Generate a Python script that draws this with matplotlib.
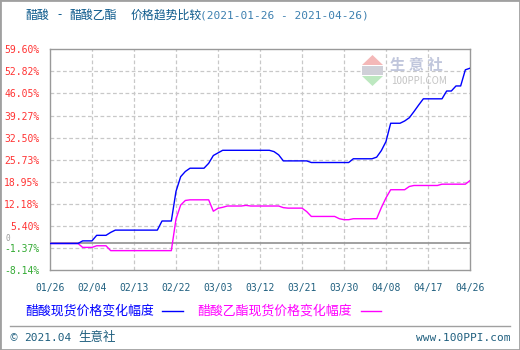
import matplotlib
matplotlib.use('Agg')
import matplotlib.pyplot as plt
from matplotlib.patches import Rectangle, Polygon
from matplotlib.lines import Line2D
import pandas as pd

plt.rcParams['font.family'] = ['Noto Sans CJK SC', 'DejaVu Sans']

# 醋酸现货价格变化幅度 (%)
acid_dates = ['2021-01-26', '2021-02-01', '2021-02-02', '2021-02-04', '2021-02-05', '2021-02-07',
              '2021-02-08', '2021-02-09', '2021-02-18', '2021-02-19', '2021-02-21', '2021-02-22',
              '2021-02-23', '2021-02-24', '2021-02-25', '2021-02-28', '2021-03-01', '2021-03-02',
              '2021-03-03', '2021-03-04', '2021-03-14', '2021-03-15', '2021-03-16', '2021-03-17',
              '2021-03-22', '2021-03-23', '2021-03-31', '2021-04-01', '2021-04-05', '2021-04-06',
              '2021-04-07', '2021-04-08', '2021-04-09', '2021-04-11', '2021-04-12', '2021-04-13',
              '2021-04-14', '2021-04-15', '2021-04-16', '2021-04-20', '2021-04-21', '2021-04-22',
              '2021-04-23', '2021-04-24', '2021-04-25', '2021-04-26']
acid_vals = [0, 0, 0.8, 0.8, 2.5, 2.5,
             3.4, 4.1, 4.1, 6.9, 6.9, 16.0,
             20.5, 22.1, 23.1, 23.1, 24.6, 27.0,
             27.8, 28.6, 28.6, 28.2, 27.2, 25.35,
             25.35, 24.85, 24.85, 26.0, 26.0, 26.5,
             28.5, 31.3, 36.9, 36.9, 37.6, 38.6,
             40.5, 42.5, 44.4, 44.4, 46.8, 46.8,
             48.35, 48.35, 53.3, 53.8]

# 醋酸乙酯现货价格变化幅度 (%)
ester_dates = ['2021-01-26', '2021-02-01', '2021-02-02', '2021-02-04', '2021-02-05', '2021-02-07',
               '2021-02-08', '2021-02-21', '2021-02-22', '2021-02-23', '2021-02-24', '2021-02-25',
               '2021-03-01', '2021-03-02', '2021-03-03', '2021-03-04', '2021-03-05', '2021-03-08',
               '2021-03-09', '2021-03-10', '2021-03-16', '2021-03-17', '2021-03-18', '2021-03-21',
               '2021-03-22', '2021-03-23', '2021-03-28', '2021-03-29', '2021-03-30', '2021-03-31',
               '2021-04-01', '2021-04-06', '2021-04-07', '2021-04-08', '2021-04-09', '2021-04-12',
               '2021-04-13', '2021-04-14', '2021-04-19', '2021-04-20', '2021-04-25', '2021-04-26']
ester_vals = [0, 0, -1.2, -1.2, -0.7, -0.7,
              -2.2, -2.2, 7.5, 11.8, 13.2, 13.4,
              13.4, 9.9, 10.8, 11.1, 11.5, 11.5,
              11.7, 11.5, 11.5, 11.0, 10.85, 10.85,
              9.8, 8.3, 8.3, 7.6, 7.3, 7.3,
              7.6, 7.6, 11.0, 14.0, 16.5, 16.5,
              17.5, 17.8, 17.8, 18.2, 18.2, 19.3]

x_labels = ['01/26', '02/04', '02/13', '02/22', '03/03', '03/12', '03/21', '03/30', '04/08', '04/17', '04/26']
y_ticks = [-8.14, -1.37, 5.40, 12.18, 18.95, 25.73, 32.50, 39.27, 46.05, 52.82, 59.60]

W, H = 520, 350
fig = plt.figure(figsize=(W / 100, H / 100), dpi=100)
fig.patch.set_facecolor('white')

ax = fig.add_axes([50 / W, (H - 270) / H, 420 / W, 220.7 / H])
xa = pd.to_datetime(acid_dates)
xe = pd.to_datetime(ester_dates)
xt = pd.to_datetime(['2021/' + s for s in x_labels])

ax.set_xlim(xt[0], xt[-1])
ax.set_ylim(y_ticks[0], y_ticks[-1])
ax.set_xticks(xt)
ax.set_xticklabels(x_labels, family='DejaVu Sans Mono', fontsize=7, color='#1f5f7f')
ax.set_yticks(y_ticks)
ax.set_yticklabels(['%.2f%%' % v for v in y_ticks], family='DejaVu Sans Mono', fontsize=7)
for lbl, v in zip(ax.get_yticklabels(), y_ticks):
    lbl.set_color('#ff3333' if v > 0 else '#33aa33')
ax.tick_params(length=0)
ax.tick_params(axis='y', pad=7.5)
ax.tick_params(axis='x', pad=9)

for v in y_ticks[1:-1]:
    ax.axhline(v, color='#c8c8c8', lw=0.9, ls=(0, (3, 2)), zorder=1)
for d in xt[1:-1]:
    ax.axvline(d, color='#c8c8c8', lw=0.9, ls=(0, (3, 2)), zorder=1)
ax.axhline(0, color='#999999', lw=1.3, zorder=2)
ax.text(-0.105, 1.4, '0', transform=ax.get_yaxis_transform(), fontsize=5.5, color='#999999',
        family='DejaVu Sans Mono', ha='left', va='center')

for s in ax.spines.values():
    s.set_color('#999999')
    s.set_linewidth(1.0)

# watermark
fig.patches.append(Polygon([(362 / W, 1 - 65 / H), (383 / W, 1 - 65 / H), (372.5 / W, 1 - 55 / H)],
                           closed=True, transform=fig.transFigure, facecolor='#f4b8b8', edgecolor='none'))
fig.patches.append(Rectangle((362 / W, 1 - 75 / H), 21 / W, 9 / H, transform=fig.transFigure,
                             facecolor='#d0d0d8', edgecolor='none'))
fig.patches.append(Polygon([(362 / W, 1 - 76 / H), (383 / W, 1 - 76 / H), (372.5 / W, 1 - 86 / H)],
                           closed=True, transform=fig.transFigure, facecolor='#bde8c0', edgecolor='none'))
fig.text(390 / W, 1 - 65 / H, '生 意 社', fontsize=11, color='#c0c6dc', va='center', ha='left', weight='bold')
fig.text(391 / W, 1 - 81 / H, '100PPI.COM', fontsize=7, color='#c4c4c4', va='center', ha='left')

ax.plot(xe, ester_vals, color='#ff00ff', lw=1.0, zorder=3)
ax.plot(xa, acid_vals, color='#0000ff', lw=1.0, zorder=4)

# title
ty = 1 - 15 / H
for px, s in [(25, '醋酸'), (57, '-'), (69, '醋酸乙酯'), (131, '价格趋势比较')]:
    fig.text(px / W, ty, s, fontsize=8.6, color='#0d5a8c', va='center', ha='left')
fig.text(200 / W, ty, '(2021-01-26 - 2021-04-26)', fontsize=8, color='#3d80b0',
         va='center', ha='left', family='DejaVu Sans Mono')

# legend
fig.text(25 / W, 1 - 311 / H, '醋酸现货价格变化幅度', fontsize=9.3, color='#0000ff', va='center', ha='left')
fig.add_artist(Line2D([162 / W, 183 / W], [1 - 311 / H, 1 - 311 / H], transform=fig.transFigure,
                      color='#0000ff', lw=1.0))
fig.text(197 / W, 1 - 311 / H, '醋酸乙酯现货价格变化幅度', fontsize=9.3, color='#ff00ff', va='center', ha='left')
fig.add_artist(Line2D([361 / W, 381 / W], [1 - 311 / H, 1 - 311 / H], transform=fig.transFigure,
                      color='#ff00ff', lw=1.0))

# footer
fig.add_artist(Line2D([10 / W, 510 / W], [1 - 326 / H, 1 - 326 / H], transform=fig.transFigure,
                      color='#a0a0a0', lw=1.0))
fig.text(10 / W, 1 - 338 / H, '©', fontsize=7, color='#1f5f7f', va='center', ha='left')
fig.text(24 / W, 1 - 338 / H, '2021.04', fontsize=8, color='#1f5f7f', va='center', ha='left',
         family='DejaVu Sans Mono')
fig.text(78 / W, 1 - 338 / H, '生意社', fontsize=9, color='#1f5f7f', va='center', ha='left')
fig.text(510 / W, 1 - 338 / H, 'www.100PPI.com', fontsize=8, color='#1f5f7f', va='center', ha='right',
         family='DejaVu Sans Mono')

fig.patches.append(Rectangle((0, 0), 1, 1, transform=fig.transFigure, fill=False,
                             edgecolor='#a0a0a0', lw=2.0))

fig.savefig('out.png', dpi=100)
